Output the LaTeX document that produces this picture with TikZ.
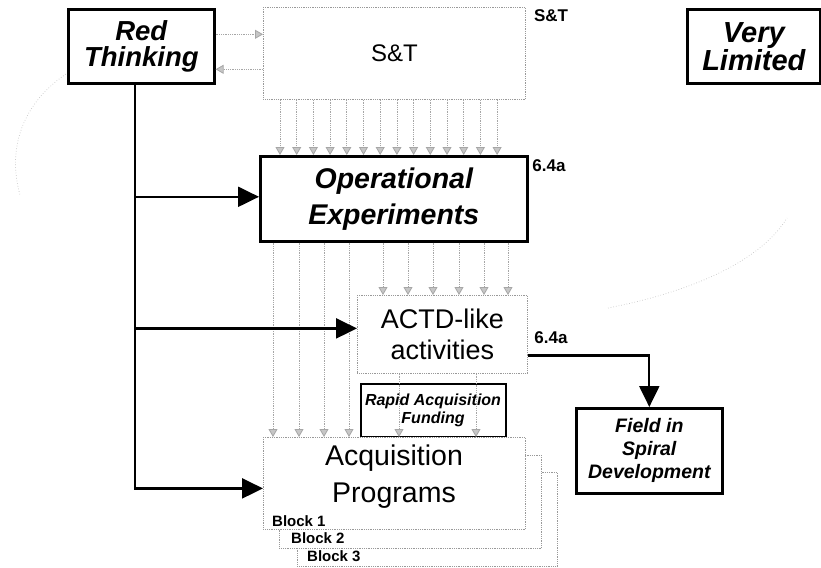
\documentclass[tikz,border=0pt]{standalone}
\usepackage{fontspec}
\setmainfont{Liberation Sans}
\usetikzlibrary{arrows.meta}
\begin{document}
\begin{tikzpicture}[x=1pt,y=-1pt,
  thickbox/.style={draw=black, line width=2.6pt, fill=white, inner sep=0pt, align=center, anchor=north west},
  dotbox/.style={draw=gray!80, densely dotted, line width=0.8pt, inner sep=0pt, align=center, anchor=north west},
  ga/.style={draw=gray!70, densely dotted, line width=0.8pt, -{Triangle[width=9pt,length=8pt,fill=gray!45]}},
  ba/.style={draw=black, line width=2.2pt, -{Triangle[width=20pt,length=21pt]}},
  lbl/.style={font=\fontsize{17}{17}\selectfont\bfseries, inner sep=0pt},
  blk/.style={font=\fontsize{15}{15}\selectfont\bfseries, inner sep=0pt, anchor=base west},
  faint/.style={draw=gray!45, dotted, line width=0.7pt}]
\useasboundingbox (0,0) rectangle (821,567);
% faint background arcs
\draw[faint] (97,58) .. controls (40,80) and (2,130) .. (20,195);
\draw[faint] (608,308) .. controls (690,292) and (760,262) .. (787,218);
% boxes
\node[thickbox, minimum width=146pt, minimum height=74pt,
  font=\fontsize{27.5}{26}\selectfont\bfseries\itshape] (rt) at (67,8) {Red\\Thinking};
\node[dotbox, minimum width=262pt, minimum height=92pt,
  font=\fontsize{24}{24}\selectfont] (st) at (263,7) {S\&T};
\node[thickbox, minimum width=133pt, minimum height=74pt,
  font=\fontsize{29}{27}\selectfont\bfseries\itshape] (vl) at (686,8) {Very\\Limited};
\node[thickbox, minimum width=267pt, minimum height=85pt,
  font=\fontsize{28.5}{36}\selectfont\bfseries\itshape] (oe) at (259,155) {Operational\\Experiments};
\node[dotbox, minimum width=170pt, minimum height=78pt,
  font=\fontsize{27}{31}\selectfont] (act) at (357,295) {ACTD-like\\activities};
\node[draw=black, line width=2.4pt, inner sep=0pt, anchor=north west,
  minimum width=145pt, minimum height=53pt] (raf) at (360,383) {};
\node[font=\fontsize{16}{18}\selectfont\bfseries\itshape, align=center, inner sep=0pt]
  (raftext) at (433,410) {Rapid Acquisition\\Funding};
\node[thickbox, minimum width=146pt, minimum height=85pt,
  font=\fontsize{19.5}{23}\selectfont\bfseries\itshape] (fd) at (575,407) {Field in\\Spiral\\Development};
% acquisition stack
\node[dotbox, fill=white, minimum width=260pt, minimum height=94pt] (b3) at (297,472) {};
\node[dotbox, fill=white, minimum width=262pt, minimum height=93pt] (b2) at (279,455) {};
\node[dotbox, fill=white, minimum width=262pt, minimum height=92pt] (aq) at (263,437) {};
\node[font=\fontsize{28.5}{37}\selectfont, align=center, inner sep=0pt] (aqtext) at (394,477) {Acquisition\\Programs};
\node[blk] (bl1) at (272,526) {Block 1};
\node[blk] (bl2) at (291,543) {Block 2};
\node[blk] (bl3) at (307,561) {Block 3};
% labels
\node[lbl] (l1) at (551,16) {S\&T};
\node[lbl] (l2) at (549,166) {6.4a};
\node[lbl] (l3) at (551,338) {6.4a};
% Red Thinking <-> S&T
\draw[ga] ([yshift=12pt]rt.east) -- ([yshift=12pt]rt.east -| st.west);
\draw[ga] ([yshift=-23pt]rt.east -| st.west) -- ([yshift=-23pt]rt.east);
% S&T -> Operational Experiments
\foreach \i in {0,...,13} {
  \pgfmathsetmacro\xx{280+16.7*\i}
  \coordinate (s\i) at (\xx,0);
  \draw[ga] (st.south -| s\i) -- (oe.north -| s\i);
}
% Operational -> Acquisition
\foreach \xx [count=\i] in {273,299,324,349} {
  \coordinate (p\i) at (\xx,0);
  \draw[ga] (oe.south -| p\i) -- (aq.north -| p\i);
}
% Operational -> ACTD
\foreach \xx [count=\i] in {383,408,433,459,484,508} {
  \coordinate (q\i) at (\xx,0);
  \draw[ga] (oe.south -| q\i) -- (act.north -| q\i);
}
% ACTD -> Acquisition
\foreach \xx [count=\i] in {399,476} {
  \coordinate (r\i) at (\xx,0);
  \draw[ga] (act.south -| r\i) -- (aq.north -| r\i);
}
% Red Thinking trunk
\coordinate (tr) at (135,0);
\draw[ba] (rt.south -| tr) |- ([yshift=2pt]oe.west);
\draw[ba] (rt.south -| tr) |- ([yshift=6pt]act.west);
\draw[ba] (rt.south -| tr) |- ([yshift=-5pt]aq.west);
% ACTD -> Field
\draw[ba] ([yshift=-21pt]act.east) -| (fd.north);
\end{tikzpicture}
\end{document}
